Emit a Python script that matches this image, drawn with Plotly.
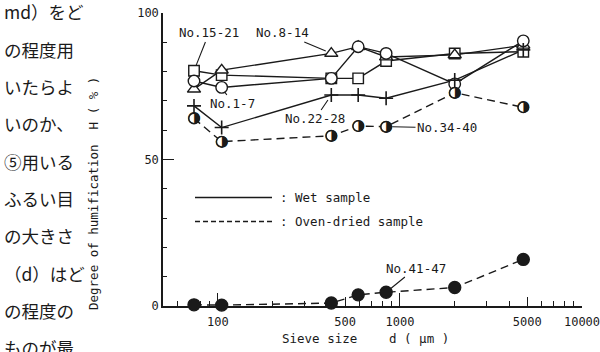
import math
import plotly.graph_objects as go

# ---------------- data ----------------
sieve_um = [74, 105, 420, 590, 840, 2000, 4760]
no1_7 = [76.8, 74.6, 77.7, 88.5, 86.2, 75.8, 90.5]
no8_14 = [74.0, 80.5, 86.2, 88.5, 85.0, 85.7, 89.0]
no15_21 = [80.3, 78.8, 77.7, 77.7, 83.6, 86.2, 86.8]
no22_28 = [68.3, 60.9, 72.0, 72.0, 70.9, 77.1, 87.4]
no34_40 = [64.0, 56.1, 58.1, 61.4, 61.2, 72.8, 67.8]
no41_47 = [0.4, 0.3, 1.0, 3.8, 4.7, 6.3, 15.9]

x_tickvals = [100, 500, 1000, 5000, 10000]
x_ticktext = ["100", "500", "1000", "5000", "10000"]
x_long = [100, 1000, 10000]
x_minor = [60, 70, 80, 90, 200, 300, 400, 600, 700, 800, 900,
           2000, 3000, 4000, 6000, 7000, 8000, 9000]
y_tickvals = [0, 50, 100]
y_minor = [10, 20, 30, 40, 60, 70, 80, 90]

jp_lines = ["md）をど", "の程度用", "いたらよ", "いのか、", "⑤用いる",
            "ふるい目", "の大きさ", "（d）はど", "の程度の", "ものが最"]

# ---------------- layout geometry (pixels) ----------------
W, H = 600, 352
L, R, T, B = 163, 582, 13, 306
INK = "#1a1a1a"
MONO = "DejaVu Sans Mono"
XR = [math.log10(50), 4]


def px(xp):
    return (xp - L) / (R - L)


def py(yp):
    return (B - yp) / (B - T)


fig = go.Figure()

series = [
    (no1_7, "solid"),
    (no8_14, "solid"),
    (no15_21, "solid"),
    (no22_28, "solid"),
    (no34_40, "8px,5px"),
    (no41_47, "8px,5px"),
]
for ys, dash in series:
    fig.add_trace(go.Scatter(x=sieve_um, y=ys, mode="lines",
                             line=dict(color=INK, width=1.4, dash=dash),
                             cliponaxis=False, hoverinfo="skip"))


def mk(ys, symbol, size, fill="white", lw=1.4):
    fig.add_trace(go.Scatter(x=sieve_um, y=ys, mode="markers", cliponaxis=False,
                             marker=dict(symbol=symbol, size=size, color=fill,
                                         line=dict(color=INK, width=lw)),
                             hoverinfo="skip"))


mk(no15_21, "square", 10.5)
mk(no8_14, "triangle-up", 11.5)
mk(no1_7, "circle", 11.5)
mk(no22_28, "cross-thin", 10, lw=1.6)
mk(no41_47, "circle", 12, fill=INK)
mk(no34_40, "circle", 10.5)
fig.add_trace(go.Scatter(x=sieve_um, y=no34_40, mode="text", text=["◑"] * len(sieve_um),
                         textposition="middle center", cliponaxis=False,
                         textfont=dict(family="DejaVu Sans", size=15.5, color=INK),
                         hoverinfo="skip"))

for xa in ("x2", "x3"):
    fig.add_trace(go.Scatter(x=[100], y=[None], xaxis=xa, yaxis="y", mode="markers",
                             marker=dict(opacity=0), hoverinfo="skip"))

annotations = []


def label(text, xv, yv, tx, ty):
    xpix = L + (math.log10(xv) - XR[0]) / (XR[1] - XR[0]) * (R - L)
    ypix = B - yv / 100 * (B - T)
    annotations.append(dict(x=math.log10(xv), y=yv, xref="x", yref="y", text=text,
                            showarrow=True, arrowhead=0, arrowwidth=1.1,
                            arrowcolor=INK, standoff=6,
                            ax=tx - xpix, ay=ty - ypix,
                            font=dict(family=MONO, size=12.5, color=INK)))


label("No.15-21", sieve_um[0], no15_21[0], 209, 33)
label("No.8-14", sieve_um[2], no8_14[2], 283, 33)
label("No.1-7", sieve_um[1], no1_7[1], 233, 104)
label("No.22-28", sieve_um[2], no22_28[2], 315, 119)
label("No.34-40", sieve_um[4], no34_40[4], 447, 128)
label("No.41-47", sieve_um[4], no41_47[4], 416, 268)

shapes = [
    dict(type="line", xref="paper", yref="paper", x0=px(195), x1=px(272),
         y0=py(197.5), y1=py(197.5), line=dict(color=INK, width=1.4)),
    dict(type="line", xref="paper", yref="paper", x0=px(195), x1=px(272),
         y0=py(221.5), y1=py(221.5), line=dict(color=INK, width=1.4, dash="5px,3px")),
]
annotations.append(dict(x=px(278), y=py(197.5), xref="paper", yref="paper",
                        text=": Wet sample", showarrow=False, xanchor="left",
                        yanchor="middle", font=dict(family=MONO, size=12.5, color=INK)))
annotations.append(dict(x=px(278), y=py(221.5), xref="paper", yref="paper",
                        text=": Oven-dried sample", showarrow=False, xanchor="left",
                        yanchor="middle", font=dict(family=MONO, size=12.5, color=INK)))

annotations.append(dict(x=px(93), y=py(194), xref="paper", yref="paper",
                        text="Degree of humification\u00a0\u00a0H\u00a0(\u00a0%\u00a0)",
                        textangle=-90, showarrow=False, xanchor="center", yanchor="middle",
                        font=dict(family=MONO, size=12.5, color=INK)))
annotations.append(dict(x=px(280), y=py(338), xref="paper", yref="paper",
                        text="Sieve size", showarrow=False, xanchor="left",
                        yanchor="middle", font=dict(family=MONO, size=12.5, color=INK)))
annotations.append(dict(x=px(387), y=py(338), xref="paper", yref="paper",
                        text="d\u00a0(\u00a0μm\u00a0)", showarrow=False, xanchor="left",
                        yanchor="middle", font=dict(family=MONO, size=12.5, color=INK)))

for i, t in enumerate(jp_lines):
    yc = 12 + i * 37.3
    annotations.append(dict(x=px(2), y=py(yc), xref="paper", yref="paper", text=t,
                            showarrow=False, xanchor="left", yanchor="middle",
                            font=dict(family="Noto Sans CJK JP", size=17.5, color=INK)))

tick_axis = dict(type="log", range=XR, showgrid=False, zeroline=False, showline=False,
                 overlaying="x", anchor="y", side="bottom", showticklabels=False,
                 ticks="inside", tickcolor=INK, automargin=False)

fig.update_layout(
    width=W, height=H,
    margin=dict(l=L, r=W - R, t=T, b=H - B),
    paper_bgcolor="white", plot_bgcolor="white",
    showlegend=False,
    font=dict(family=MONO, size=12, color=INK),
    shapes=shapes, annotations=annotations,
    xaxis=dict(type="log", range=XR, showgrid=False, zeroline=False, automargin=False,
               showline=True, linecolor=INK, linewidth=1.5,
               tickmode="array", ticks="inside", ticklen=9, tickwidth=1.4, tickcolor=INK,
               tickvals=x_tickvals, ticktext=x_ticktext, ticklabeloverflow="allow",
               ticklabelstandoff=4,
               tickfont=dict(family=MONO, size=12, color=INK)),
    xaxis2=dict(tick_axis, tickmode="array", tickvals=x_long, ticklen=13, tickwidth=1.4),
    xaxis3=dict(tick_axis, tickmode="array", tickvals=x_minor, ticklen=5, tickwidth=1.2),
    yaxis=dict(range=[0, 100], showgrid=False, zeroline=False, automargin=False,
               showline=True, linecolor=INK, linewidth=1.5,
               ticks="inside", ticklen=11, tickwidth=1.4, tickcolor=INK,
               tickvals=y_tickvals,
               tickfont=dict(family=MONO, size=12, color=INK),
               minor=dict(tickvals=y_minor, ticks="inside", ticklen=4,
                          tickwidth=1.2, tickcolor=INK)),
)

fig.write_html("out.html", config={"displayModeBar": False},
               post_script="document.body.style.margin='0';")
